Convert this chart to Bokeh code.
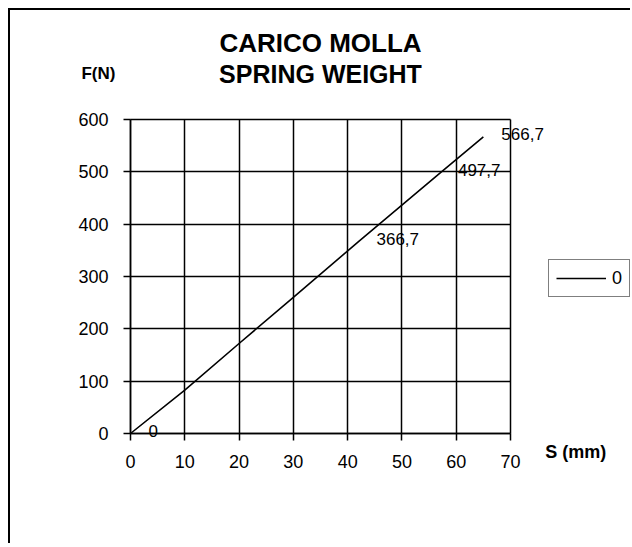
from bokeh.plotting import figure
from bokeh.models import (Range1d, Label, Legend, LegendItem, ColumnDataSource, LabelSet,
                          LinearAxis, Grid, FixedTicker)
from bokeh.embed import file_html
from bokeh.resources import INLINE
from bokeh.core.properties import value

# ---- data ----
title_lines = ["CARICO MOLLA", "SPRING WEIGHT"]
y_axis_title = "F(N)"
x_axis_title = "S (mm)"
series_name = "0"
stroke_mm = [0, 10, 20, 30, 42, 57, 65]
load_n = [0, 83, 172, 260, 366.7, 497.7, 566.7]
label_mm = [0, 42, 57, 65]
label_n = [0, 366.7, 497.7, 566.7]
label_text = ["0", "366,7", "497,7", "566,7"]
x_ticks = [0, 10, 20, 30, 40, 50, 60, 70]
y_ticks = [0, 100, 200, 300, 400, 500, 600]

FONT = "Liberation Sans"
W, H = 622, 535
# plot area inside the canvas (pixels)
PL, PR, PT, PB = 120, 500, 109, 423
x0, x1 = x_ticks[0], x_ticks[-1]
y0, y1 = y_ticks[0], y_ticks[-1]
kx = (PR - PL) / (x1 - x0)
ky = (PB - PT) / (y1 - y0)

p = figure(width=W, height=H,
           x_range=Range1d(x0 - PL / kx, x1 + (W - PR) / kx),
           y_range=Range1d(y0 - (H - PB) / ky, y1 + PT / ky),
           x_axis_location=None, y_axis_location=None,
           output_backend="svg", toolbar_location=None,
           min_border=0)
p.center = []
p.margin = (8, 0, 0, 8)
p.styles = {"border-left": "2px solid black", "border-top": "2px solid black"}
p.background_fill_color = "white"
p.border_fill_color = "white"
p.outline_line_color = None

def style_axis(ax, standoff):
    ax.major_tick_out = 7
    ax.major_tick_in = 0
    ax.minor_tick_line_color = None
    ax.axis_line_color = "black"
    ax.axis_line_width = 1.5
    ax.major_tick_line_color = "black"
    ax.major_tick_line_width = 1.5
    ax.major_label_text_font = FONT
    ax.major_label_text_font_size = "18px"
    ax.major_label_text_color = "black"
    ax.major_label_standoff = standoff

xaxis = LinearAxis(ticker=FixedTicker(ticks=x_ticks), fixed_location=y0, bounds=(x0, x1))
yaxis = LinearAxis(ticker=FixedTicker(ticks=y_ticks), fixed_location=x0, bounds=(y0, y1))
style_axis(xaxis, 14)
style_axis(yaxis, 15)

# grid lines limited to the plot area
has_cross = "cross_bounds" in Grid.properties()
if has_cross:
    xgrid = Grid(dimension=0, ticker=FixedTicker(ticks=x_ticks), bounds=(x0 - 1, x1 + 1),
                 cross_bounds=(y0, y1), grid_line_color="black", grid_line_width=1.5)
    ygrid = Grid(dimension=1, ticker=FixedTicker(ticks=y_ticks), bounds=(y0 - 1, y1 + 1),
                 cross_bounds=(x0, x1), grid_line_color="black", grid_line_width=1.5)
    p.add_layout(xgrid)
    p.add_layout(ygrid)
else:
    p.segment(x0=x_ticks, y0=[y0] * len(x_ticks), x1=x_ticks, y1=[y1] * len(x_ticks),
              line_color="black", line_width=1.5)
    p.segment(x0=[x0] * len(y_ticks), y0=y_ticks, x1=[x1] * len(y_ticks), y1=y_ticks,
              line_color="black", line_width=1.5)

p.add_layout(xaxis, "below")
p.add_layout(yaxis, "left")

r = p.line(stroke_mm, load_n, line_color="black", line_width=1.6)

src = ColumnDataSource(dict(x=label_mm, y=label_n, t=label_text))
p.add_layout(LabelSet(x="x", y="y", text="t", source=src, x_offset=18, y_offset=3,
                      text_baseline="middle", text_font=value(FONT),
                      text_font_size="17px", text_color="black"))

legend = Legend(items=[LegendItem(label=series_name, renderers=[r])],
                location=(538, 248), orientation="vertical",
                border_line_color="black", border_line_width=1.5,
                background_fill_color="white", background_fill_alpha=1,
                padding=7, margin=0, spacing=0,
                glyph_width=50, glyph_height=22, label_height=22, label_width=10,
                label_standoff=6, label_text_font=FONT, label_text_color="black",
                label_text_font_size="18px")
p.add_layout(legend)

def add_text(x, y, text, size):
    p.add_layout(Label(x=x, y=y, text=text, text_align="center",
                       text_baseline="middle", text_font=FONT, text_font_style="bold",
                       text_font_size=size, text_color="black"))

add_text(35, 747, title_lines[0], "26px")
add_text(35, 686, title_lines[1], "25px")
add_text(-5.9, 688, y_axis_title, "17px")
add_text(82, -36, x_axis_title, "18px")

open("out.html", "w").write(file_html(p, INLINE))
